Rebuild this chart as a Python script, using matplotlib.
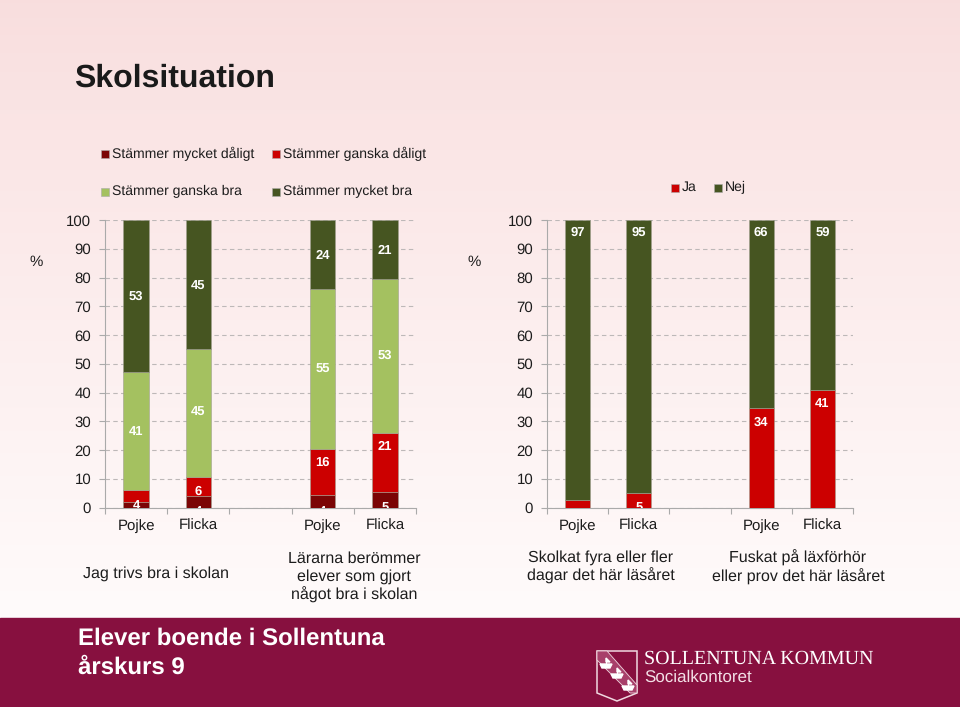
import numpy as np
import matplotlib
matplotlib.use('Agg')
from matplotlib import pyplot as plt
from matplotlib.patches import Polygon, Rectangle

plt.rcParams['font.family'] = ['Liberation Sans', 'DejaVu Sans']
plt.rcParams['text.hinting'] = 'no_hinting'
plt.rcParams['text.hinting_factor'] = 1

W, H = 960, 707

# data, left chart
left_cats = ['Pojke', 'Flicka', '', 'Pojke', 'Flicka']
mycket_daligt = [2, 4, 0, 4.3, 5.3]
ganska_daligt = [4, 6.5, 0, 16.2, 20.7]
ganska_bra = [41, 44.8, 0, 55.5, 53.5]
mycket_bra = [53, 44.7, 0, 24, 20.5]
mycket_daligt_txt = ['', '4', '', '4', '5']
ganska_daligt_txt = ['4', '6', '', '16', '21']
ganska_bra_txt = ['41', '45', '', '55', '53']
mycket_bra_txt = ['53', '45', '', '24', '21']

# data, right chart
right_cats = ['Pojke', 'Flicka', '', 'Pojke', 'Flicka']
ja = [2.7, 5, 0, 34.5, 41]
nej = [97.3, 95, 0, 65.5, 59]
ja_txt = ['', '5', '', '34', '41']
nej_txt = ['97', '95', '', '66', '59']

yticks = list(range(0, 101, 10))

DARKRED = '#7b0505'
RED = '#cc0000'
LIGHTGREEN = '#a4c160'
DARKGREEN = '#465521'
TXT = '#1c1c1c'
GRID = '#bdb8b8'


def px_axes(fig, x0, x1, y_top, y_bottom):
    return fig.add_axes([x0 / W, 1 - y_bottom / H, (x1 - x0) / W, (y_bottom - y_top) / H])


def stacked(ax, cats, series, colors, texts, label_y):
    x = np.arange(len(cats))
    bottom = np.zeros(len(cats))
    for vals, col, txt, ly in zip(series, colors, texts, label_y):
        ax.bar(x, vals, 0.41, bottom=bottom, color=col, edgecolor='#a0a090',
               linewidth=0.4, zorder=3)
        for i, t in enumerate(txt):
            if t:
                ax.text(x[i], ly[i], t, color='white', ha='center', va='center',
                        fontsize=9.3, fontweight='bold', zorder=4, clip_on=True)
        bottom += np.array(vals)
    ax.set_xlim(-0.5, len(cats) - 0.5)
    ax.set_ylim(0, 100)
    ax.set_yticks(yticks)
    ax.set_xticks(np.arange(len(cats) + 1) - 0.5)
    ax.set_xticklabels([])
    # category names on one baseline, tick labels would top-align them
    for i, c in enumerate(cats):
        ax.annotate(c, (x[i], 0), xycoords=('data', 'axes fraction'), xytext=(0, -16),
                    textcoords='offset points', ha='center', va='baseline',
                    fontsize=11, color=TXT)
    ax.tick_params(axis='x', which='major', length=4, color='#aaaaaa', width=0.8)
    ax.tick_params(axis='y', length=4, color='#aaaaaa', width=0.8, labelsize=10.5,
                   labelcolor=TXT, pad=6)
    ax.grid(axis='y', color=GRID, linestyle=(0, (4, 3)), linewidth=0.8, zorder=1)
    ax.set_axisbelow(True)
    for s in ['top', 'right']:
        ax.spines[s].set_visible(False)
    for s in ['left', 'bottom']:
        ax.spines[s].set_color('#aaaaaa')
    ax.patch.set_alpha(0)


fig = plt.figure(figsize=(W / 100, H / 100), dpi=100)

# background + banner layer, pixel coordinates
bg = fig.add_axes([0, 0, 1, 1], zorder=0)
bg.set_xlim(0, W)
bg.set_ylim(H, 0)
bg.axis('off')
grad = np.linspace(0, 1, 256).reshape(-1, 1, 1)
top = np.array([0.975, 0.87, 0.87]).reshape(1, 1, 3)
mid = np.array([1.0, 0.985, 0.985]).reshape(1, 1, 3)
bg.imshow(top + (mid - top) * grad ** 0.9, extent=[0, W, 620, 0], aspect='auto', zorder=0)
bg.set_xlim(0, W)
bg.set_ylim(H, 0)
bg.add_patch(Rectangle((0, 618), W, 89, color='#87103f', zorder=1))

bg.text(74.5, 78, 'Skolsituation', fontsize=22.8, fontweight='bold', color='#1a1a1a', va='center')

# legends
for lx, ly, col, label in [
    (101, 153.5, DARKRED, 'Stämmer mycket dåligt'),
    (272, 153.5, RED, 'Stämmer ganska dåligt'),
    (101, 191.5, LIGHTGREEN, 'Stämmer ganska bra'),
    (272, 191.5, DARKGREEN, 'Stämmer mycket bra'),
    (671, 187.5, RED, 'Ja'),
    (714, 187.5, DARKGREEN, 'Nej'),
]:
    bg.add_patch(Rectangle((lx, ly - 4), 8, 8, facecolor=col, edgecolor='#aaaaaa', linewidth=0.4, zorder=2))
    bg.text(lx + 11, ly, label, fontsize=10, color=TXT, va='center')

bg.text(36, 262, '%', fontsize=11, color=TXT, ha='center', va='center')
bg.text(474, 262, '%', fontsize=11, color=TXT, ha='center', va='center')

# group captions
for cx, cy, label in [
    (156, 574, 'Jag trivs bra i skolan'),
    (354, 577, 'Lärarna berömmer\nelever som gjort\nnågot bra i skolan'),
    (601, 567, 'Skolkat fyra eller fler\ndagar det här läsåret'),
    (798, 567, 'Fuskat på läxförhör\neller prov det här läsåret'),
]:
    bg.text(cx, cy, label, fontsize=11.5, color=TXT, ha='center', va='center', linespacing=1.23)

# banner text
bg.text(78, 639, 'Elever boende i Sollentuna', fontsize=17.2, color='white', va='center', fontweight='bold')
bg.text(78, 668, 'årskurs 9', fontsize=17.2, color='white', va='center', fontweight='bold')
bg.text(644.5, 659, 'SOLLENTUNA KOMMUN', fontsize=14.3, color='white', va='center', family='Liberation Serif')
bg.text(644, 677, 'Socialkontoret', fontsize=12.2, color='#f3dfe6', va='center')

# shield
shield = [(597, 651), (637, 651), (637, 693), (617, 701), (597, 693)]
bg.add_patch(Polygon(shield, closed=True, facecolor='none', edgecolor='#f0d8e0', linewidth=1.1, zorder=3))
bg.add_patch(Polygon([(597, 651), (607, 651), (637, 685), (637, 693), (630, 693), (597, 660)],
                     closed=True, facecolor='#a8406a', edgecolor='#f0d8e0', linewidth=0.6, zorder=3))
for sx, sy in [(606, 664), (617, 674), (628, 686)]:
    bg.add_patch(Polygon([(sx - 6, sy), (sx + 6, sy), (sx + 4, sy + 4), (sx - 4, sy + 4)],
                         closed=True, color='white', zorder=4))
    bg.plot([sx, sx], [sy - 6, sy], color='white', linewidth=0.8, zorder=4)
    bg.add_patch(Polygon([(sx, sy - 6), (sx + 4, sy - 2), (sx, sy - 2)], closed=True, color='white', zorder=4))

# left chart
ax1 = px_axes(fig, 105, 416, 220, 507.5)
ax1.set_zorder(2)
left_label_y = [
    [0, -1.5, 0, -1.5, -0.5],
    [0.5, 5.5, 0, 15.8, 21],
    [26.5, 33, 0, 48, 52.7],
    [73.5, 77, 0, 87.5, 89.5],
]
stacked(ax1, left_cats, [mycket_daligt, ganska_daligt, ganska_bra, mycket_bra],
        [DARKRED, RED, LIGHTGREEN, DARKGREEN],
        [mycket_daligt_txt, ganska_daligt_txt, ganska_bra_txt, mycket_bra_txt], left_label_y)

# right chart
ax2 = px_axes(fig, 547, 853, 220, 507.5)
ax2.set_zorder(2)
right_label_y = [
    [0, -0.5, 0, 29.4, 36],
    [95.5, 95.5, 0, 95.5, 95.5],
]
stacked(ax2, right_cats, [ja, nej], [RED, DARKGREEN], [ja_txt, nej_txt], right_label_y)

fig.savefig('out.png', dpi=100)
